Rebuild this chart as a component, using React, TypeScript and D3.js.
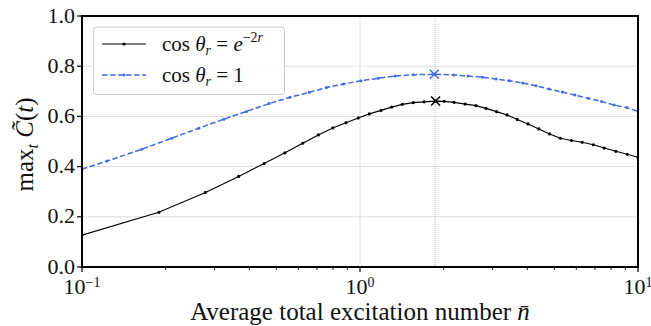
import React from 'react';
import * as d3 from 'd3';

// cos(theta_r) = e^{-2r}
const nBlack = [0.1, 0.189, 0.278, 0.366, 0.452, 0.537, 0.622, 0.708, 0.798, 0.891, 0.986, 1.08, 1.19, 1.3, 1.42, 1.555, 1.7, 1.87, 2.01, 2.18, 2.39, 2.61, 2.84, 3.1, 3.38, 3.68, 4.02, 4.4, 4.81, 5.26, 5.76, 6.3, 6.91, 7.56, 8.32, 9.15, 10];
const cBlack = [0.127, 0.218, 0.297, 0.361, 0.412, 0.455, 0.493, 0.526, 0.554, 0.575, 0.594, 0.61, 0.624, 0.637, 0.648, 0.655, 0.658, 0.661, 0.66, 0.656, 0.649, 0.643, 0.632, 0.619, 0.606, 0.588, 0.57, 0.55, 0.53, 0.513, 0.504, 0.497, 0.487, 0.474, 0.461, 0.449, 0.437];

// cos(theta_r) = 1
const nBlue = [0.1, 0.123, 0.164, 0.21, 0.263, 0.324, 0.391, 0.471, 0.56, 0.658, 0.759, 0.871, 1.008, 1.164, 1.336, 1.555, 1.85, 2.17, 2.45, 2.76, 3.09, 3.44, 3.85, 4.3, 4.79, 5.34, 5.93, 6.62, 7.4, 8.22, 9.1, 10];
const cBlue = [0.39, 0.422, 0.469, 0.513, 0.553, 0.589, 0.62, 0.651, 0.676, 0.696, 0.715, 0.729, 0.742, 0.752, 0.761, 0.766, 0.768, 0.765, 0.761, 0.756, 0.749, 0.742, 0.733, 0.722, 0.709, 0.697, 0.685, 0.672, 0.659, 0.645, 0.635, 0.62];

const yTicks = [0, 0.2, 0.4, 0.6, 0.8, 1.0];
const xTicks = [0.1, 1, 10];
const xTickExp = ['\u22121', '0', '1'];

const W = 651;
const H = 326;
const margin = { top: 16, right: 13, bottom: 59, left: 82 };
const FONT = '"Liberation Serif", "DejaVu Serif", serif';
const BLUE = '#4169e1';

export default function App() {
  const x = d3.scaleLog().domain([0.1, 10]).range([margin.left, W - margin.right]);
  const y = d3.scaleLinear().domain([0, 1]).range([H - margin.bottom, margin.top]);

  const blackPts = nBlack.map((n, i) => [n, cBlack[i]] as [number, number]);
  const bluePts = nBlue.map((n, i) => [n, cBlue[i]] as [number, number]);
  const line = d3.line<[number, number]>().x(d => x(d[0])).y(d => y(d[1]));

  // maxima
  const iB = d3.maxIndex(cBlack);
  const iU = d3.maxIndex(cBlue);

  const minor: number[] = [];
  [0.1, 1].forEach(dec => {
    for (let k = 2; k <= 9; k++) minor.push(dec * k);
  });

  const x0 = margin.left, x1 = W - margin.right;
  const y0 = H - margin.bottom, y1 = margin.top;

  const cross = (cx: number, cy: number, color: string) => (
    <g stroke={color} strokeWidth={1.5}>
      <line x1={cx - 4.5} y1={cy - 4.5} x2={cx + 4.5} y2={cy + 4.5} />
      <line x1={cx - 4.5} y1={cy + 4.5} x2={cx + 4.5} y2={cy - 4.5} />
    </g>
  );

  return (
    <svg width={W} height={H} style={{ position: 'absolute', left: 0, top: 0, background: '#fff' }} fontFamily={FONT}>
      <defs>
        <clipPath id="plot">
          <rect x={x0} y={y1} width={x1 - x0} height={y0 - y1} />
        </clipPath>
      </defs>

      {/* grid */}
      <g stroke="#dedede" strokeWidth={1}>
        {yTicks.map(t => <line key={'gy' + t} x1={x0} x2={x1} y1={y(t)} y2={y(t)} />)}
        {xTicks.map(t => <line key={'gx' + t} x1={x(t)} x2={x(t)} y1={y0} y2={y1} />)}
      </g>

      {/* argmax guides */}
      <line x1={x(nBlue[iU])} x2={x(nBlue[iU])} y1={y0} y2={y1} stroke={BLUE} strokeOpacity={0.22} strokeWidth={1} strokeDasharray="1,1" />
      <line x1={x(nBlack[iB])} x2={x(nBlack[iB])} y1={y0} y2={y1} stroke="#555" strokeOpacity={0.25} strokeWidth={1} strokeDasharray="1,1" />

      <g clipPath="url(#plot)">
        <path d={line(bluePts) || ''} fill="none" stroke={BLUE} strokeWidth={1.5} strokeDasharray="5.5,2.5" />
        {bluePts.map((p, i) => <circle key={'u' + i} cx={x(p[0])} cy={y(p[1])} r={1.5} fill={BLUE} />)}
        <path d={line(blackPts) || ''} fill="none" stroke="#000" strokeWidth={1.1} />
        {blackPts.map((p, i) => <circle key={'b' + i} cx={x(p[0])} cy={y(p[1])} r={1.6} fill="#000" />)}
        {cross(x(nBlue[iU]), y(cBlue[iU]), BLUE)}
        {cross(x(nBlack[iB]), y(cBlack[iB]), '#000')}
      </g>

      {/* legend */}
      <g>
        <rect x={93.5} y={27} width={191} height={67.5} rx={3} fill="#fff" fillOpacity={0.8} stroke="#cccccc" strokeWidth={1} />
        <line x1={102} x2={146} y1={44} y2={44} stroke="#000" strokeWidth={1.1} />
        <circle cx={124} cy={44} r={1.6} fill="#000" />
        <line x1={102} x2={146} y1={75} y2={75} stroke={BLUE} strokeWidth={1.5} strokeDasharray="5.5,2.5" />
        <circle cx={124} cy={75} r={1.5} fill={BLUE} />
        <text x={162} y={51} fontSize={21} fill="#111">
          cos <tspan fontStyle="italic">θ</tspan>
          <tspan fontStyle="italic" fontSize={14} dy={4}>r</tspan>
          <tspan dy={-4}> = </tspan>
          <tspan fontStyle="italic">e</tspan>
          <tspan fontSize={14} dy={-9}>−2</tspan>
          <tspan fontSize={14} fontStyle="italic">r</tspan>
        </text>
        <text x={162} y={82} fontSize={21} fill="#111">
          cos <tspan fontStyle="italic">θ</tspan>
          <tspan fontStyle="italic" fontSize={14} dy={4}>r</tspan>
          <tspan dy={-4}> = 1</tspan>
        </text>
      </g>

      {/* spines */}
      <rect x={x0} y={y1} width={x1 - x0} height={y0 - y1} fill="none" stroke="#000" strokeWidth={2} />

      {/* y ticks */}
      {yTicks.map(t => (
        <g key={'yt' + t}>
          <line x1={x0 - 5} x2={x0} y1={y(t)} y2={y(t)} stroke="#000" strokeWidth={1.2} />
          <text x={x0 - 7} y={y(t) + 6.5} fontSize={22} textAnchor="end" fill="#111">{t.toFixed(1)}</text>
        </g>
      ))}

      {/* x ticks */}
      {xTicks.map((t, i) => (
        <g key={'xt' + t}>
          <line x1={x(t)} x2={x(t)} y1={y0} y2={y0 + 5} stroke="#000" strokeWidth={1.2} />
          <text x={x(t)} y={294} fontSize={22} textAnchor="middle" fill="#111">
            10<tspan fontSize={14} dy={-7}>{xTickExp[i]}</tspan>
          </text>
        </g>
      ))}
      {minor.map(t => (
        <line key={'mx' + t} x1={x(t)} x2={x(t)} y1={y0} y2={y0 + 3} stroke="#000" strokeWidth={0.9} />
      ))}

      {/* axis labels */}
      <text x={(x0 + x1) / 2} y={320} fontSize={25} textAnchor="middle" fill="#111">
        Average total excitation number <tspan fontStyle="italic">n̄</tspan>
      </text>
      <text transform={`translate(33,${(y0 + y1) / 2 + 3}) rotate(-90)`} fontSize={25} textAnchor="middle" fill="#111">
        max<tspan fontSize={16} fontStyle="italic" dy={5}>t</tspan>
        <tspan dy={-5} fontStyle="italic"> C̃</tspan>
        <tspan>(</tspan><tspan fontStyle="italic">t</tspan><tspan>)</tspan>
      </text>
    </svg>
  );
}
